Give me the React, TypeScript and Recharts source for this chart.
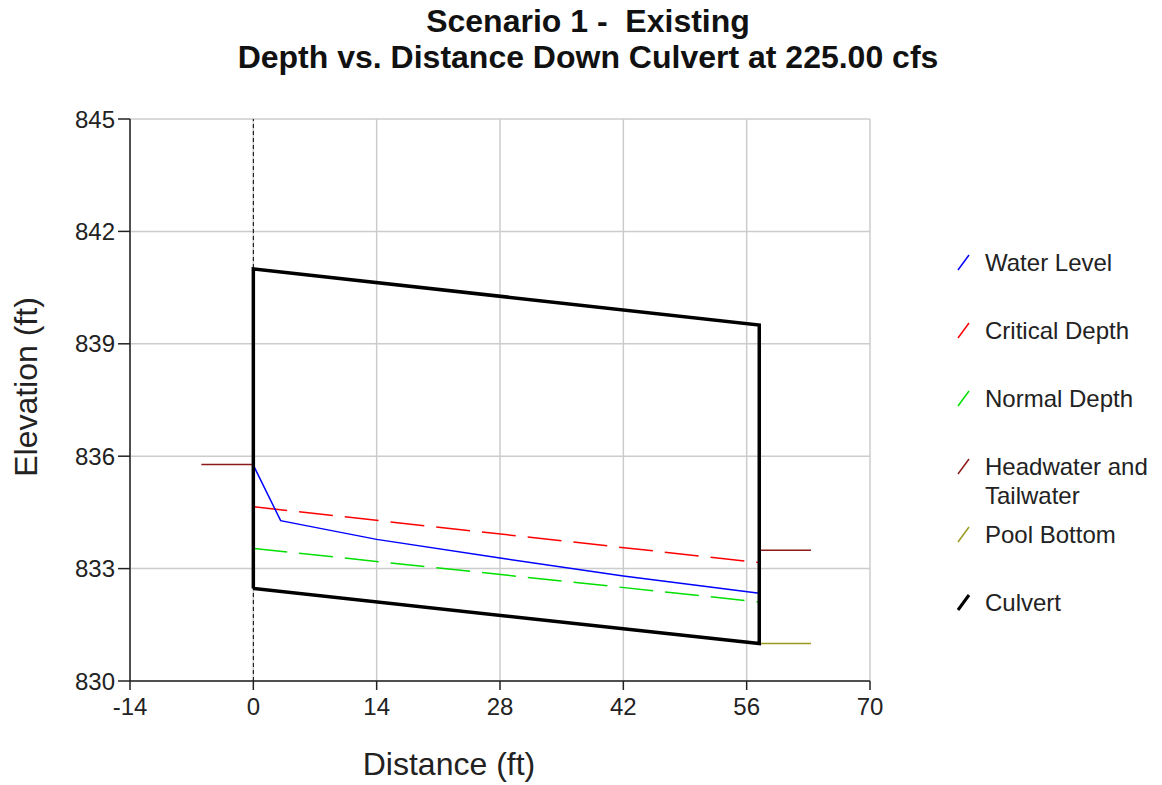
import { CartesianGrid, Line, LineChart, ReferenceLine, XAxis, YAxis } from "recharts";

const xTicks = [-14, 0, 14, 28, 42, 56, 70];
const yTicks = [830, 833, 836, 839, 842, 845];

const waterX = [0, 3.1, 7, 14, 28, 42, 57.43];
const waterY = [835.76, 834.28, 834.1, 833.78, 833.28, 832.8, 832.34];
const criticalX = [0, 57.43];
const criticalY = [834.65, 833.16];
const normalX = [0, 57.43];
const normalY = [833.54, 832.11];
const headX = [-5.9, 0];
const headY = [835.78, 835.78];
const tailX = [57.43, 63.3];
const tailY = [833.49, 833.49];
const poolX = [57.43, 63.3];
const poolY = [831.0, 831.0];
const culvertX = [0, 0, 57.43, 57.43, 0];
const culvertY = [832.47, 841.0, 839.5, 831.0, 832.47];

const legendNames = ["Water Level", "Critical Depth", "Normal Depth", "Headwater and Tailwater", "Pool Bottom", "Culvert"];
const legendColors = ["#0000ff", "#ff0000", "#00e000", "#8b1a1a", "#9a9a1e", "#000000"];

const zip = (xs: number[], ys: number[]) => xs.map((x, i) => ({ x, y: ys[i] }));

const FONT = "'Liberation Sans', Arial, sans-serif";

// legend sits beside the plot, drawn as plain html
function LegendBox() {
  return (
    <div style={{ position: "absolute", left: 950, top: 248, width: 212, fontFamily: FONT, fontSize: 24, color: "#222" }}>
      {legendNames.map((name, i) => (
        <div key={name} style={{ position: "absolute", left: 0, top: i * 68, width: 212, lineHeight: "29px" }}>
          <svg width={16} height={20} style={{ position: "absolute", left: 6, top: 5 }}>
            <line x1={2} y1={17} x2={13} y2={2} stroke={legendColors[i]} strokeWidth={i === 5 ? 3 : 1.5} />
          </svg>
          <div style={{ position: "absolute", left: 35, width: 176 }}>{name}</div>
        </div>
      ))}
    </div>
  );
}

export default function App() {
  const tickStyle = { fontSize: 24, fill: "#222", fontFamily: FONT };
  return (
    <div style={{ position: "absolute", left: 0, top: 0, width: 1162, height: 785, background: "#fff" }}>
      <div
        style={{
          position: "absolute",
          left: 0,
          top: 3,
          width: 1176,
          textAlign: "center",
          fontFamily: FONT,
          fontWeight: "bold",
          fontSize: 32,
          lineHeight: "36px",
          whiteSpace: "pre",
          color: "#111",
        }}
      >
        {"Scenario 1 -  Existing\nDepth vs. Distance Down Culvert at 225.00 cfs"}
      </div>
      <LineChart width={1162} height={785} margin={{ top: 119, right: 292, bottom: 0, left: 0 }}>
        <CartesianGrid stroke="#cccccc" strokeWidth={1.5} verticalValues={xTicks} horizontalValues={yTicks} />
        <XAxis
          type="number"
          dataKey="x"
          domain={[-14, 70]}
          ticks={xTicks}
          allowDataOverflow
          height={104}
          tickSize={9}
          tickMargin={8}
          tick={tickStyle}
          stroke="#222"
          strokeWidth={1.5}
          label={{ value: "Distance (ft)", position: "insideBottom", offset: 10, dx: -51, style: { fontSize: 32, fill: "#222", fontFamily: FONT } }}
        />
        <YAxis
          type="number"
          dataKey="y"
          domain={[830, 845]}
          ticks={yTicks}
          allowDataOverflow
          width={130}
          tickSize={12}
          tickMargin={3}
          tick={tickStyle}
          stroke="#222"
          strokeWidth={1.5}
          label={{ value: "Elevation (ft)", angle: -90, position: "insideLeft", offset: 26, dy: -13, style: { textAnchor: "middle", fontSize: 32, fill: "#222", fontFamily: FONT } }}
        />
        <ReferenceLine x={0} stroke="#000" strokeDasharray="4 3" strokeWidth={1} />
        <Line data={zip(headX, headY)} dataKey="y" stroke={legendColors[3]} strokeWidth={1.5} dot={false} isAnimationActive={false} />
        <Line data={zip(tailX, tailY)} dataKey="y" stroke={legendColors[3]} strokeWidth={1.5} dot={false} isAnimationActive={false} />
        <Line data={zip(poolX, poolY)} dataKey="y" stroke={legendColors[4]} strokeWidth={1.5} dot={false} isAnimationActive={false} />
        <Line data={zip(criticalX, criticalY)} dataKey="y" stroke={legendColors[1]} strokeWidth={1.5} strokeDasharray="34 12" dot={false} isAnimationActive={false} />
        <Line data={zip(normalX, normalY)} dataKey="y" stroke={legendColors[2]} strokeWidth={1.5} strokeDasharray="34 12" dot={false} isAnimationActive={false} />
        <Line data={zip(waterX, waterY)} dataKey="y" stroke={legendColors[0]} strokeWidth={1.5} dot={false} isAnimationActive={false} />
        <Line data={zip(culvertX, culvertY)} dataKey="y" stroke="#000" strokeWidth={3.5} dot={false} isAnimationActive={false} />
      </LineChart>
      <LegendBox />
    </div>
  );
}
